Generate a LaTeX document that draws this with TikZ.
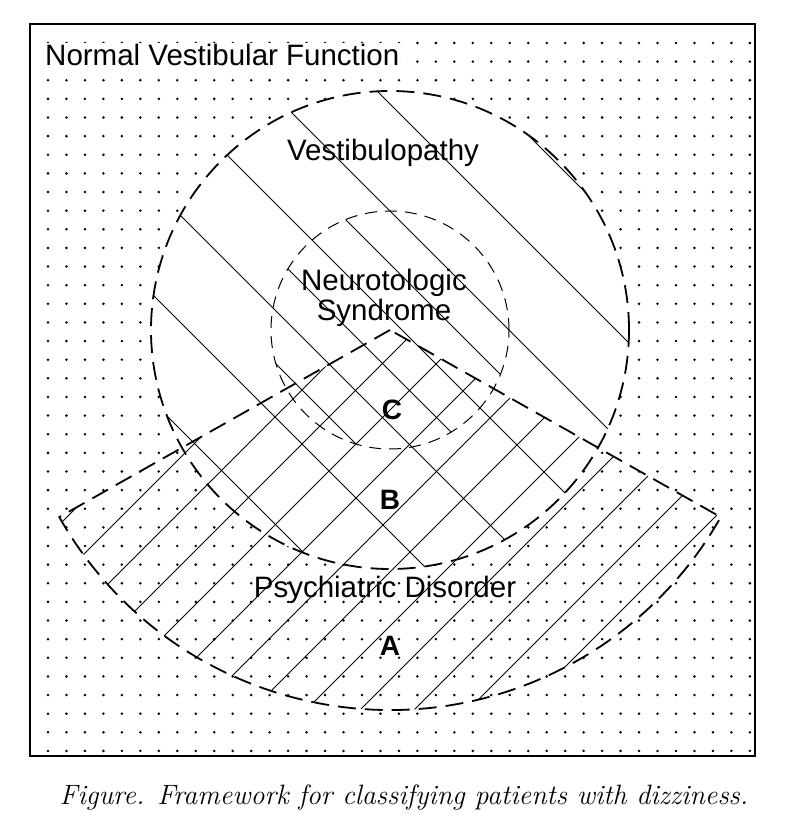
\documentclass[tikz,border=0pt]{standalone}
\usepackage{fontspec}
\setmainfont{Liberation Sans}
\newfontfamily\capfont{Latin Modern Roman}
\begin{document}
\begin{tikzpicture}[x=1pt,y=1pt,
  lbl/.style={font=\fontsize{29.5}{30}\selectfont, inner sep=0pt, align=center},
  blbl/.style={font=\fontsize{28}{30}\selectfont\bfseries, inner sep=0pt},
  bigdash/.style={line width=1.8pt, dash pattern=on 18pt off 9pt},
  smalldash/.style={line width=1pt, dash pattern=on 12pt off 8pt},
  hatch/.style={line width=0.75pt}]
\useasboundingbox (0,0) rectangle (788,834);
\fill[white] (0,0) rectangle (788,834);
% dots
\foreach \i in {0,...,38}{
  \foreach \j in {0,...,38}{
    \fill ({48+18.47*\i},{791-18.63*\j}) circle (1.4pt);
  }
}
\node[lbl, fill=white, anchor=west, inner sep=1pt] (normal) at (44,779) {Normal Vestibular Function};
% regions
\coordinate (ctr) at (390,504);
\fill[white] (ctr) circle (239pt);
\begin{scope}
  \clip (ctr) circle (239pt);
  \foreach \k in {-4,...,3}{
    \pgfmathsetmacro{\s}{906+107*\k}
    \draw[hatch] (0,\s) -- (800,\s-800);
  }
\end{scope}
\begin{scope}
  \clip (ctr) circle (119pt);
  \foreach \k in {-3,...,3}{
    \pgfmathsetmacro{\s}{853+107*\k}
    \draw[hatch] (0,\s) -- (800,\s-800);
  }
\end{scope}
\begin{scope}
  \clip (ctr) -- ++(209.5:380pt) arc[start angle=209.5, end angle=330.5, radius=380pt] -- cycle;
  \foreach \k in {-11,...,11}{
    \pgfmathsetmacro{\d}{-88+54*\k}
    \draw[hatch] (0,-\d) -- (800,800-\d);
  }
\end{scope}
% outlines
\draw[bigdash] (ctr) circle (239pt);
\draw[smalldash] (ctr) circle (119pt);
\draw[bigdash] (ctr) -- ++(209.5:380pt) arc[start angle=209.5, end angle=330.5, radius=380pt] -- cycle;
\draw[line width=1.6pt] (30,78) rectangle (755,810);
% labels
\node[lbl] (vest) at (383,681) {Vestibulopathy};
\node[lbl] (neuro) at (384,536) {Neurotologic\\Syndrome};
\node[blbl] (c) at (392,424) {C};
\node[blbl] (b) at (390,334) {B};
\node[lbl] (psy) at (385,244) {Psychiatric Disorder};
\node[blbl] (a) at (390,188) {A};
\node[font=\capfont\itshape\fontsize{28}{30}\selectfont, inner sep=0pt] (cap) at (404,36) {Figure. Framework for classifying patients with dizziness.};
\end{tikzpicture}
\end{document}
